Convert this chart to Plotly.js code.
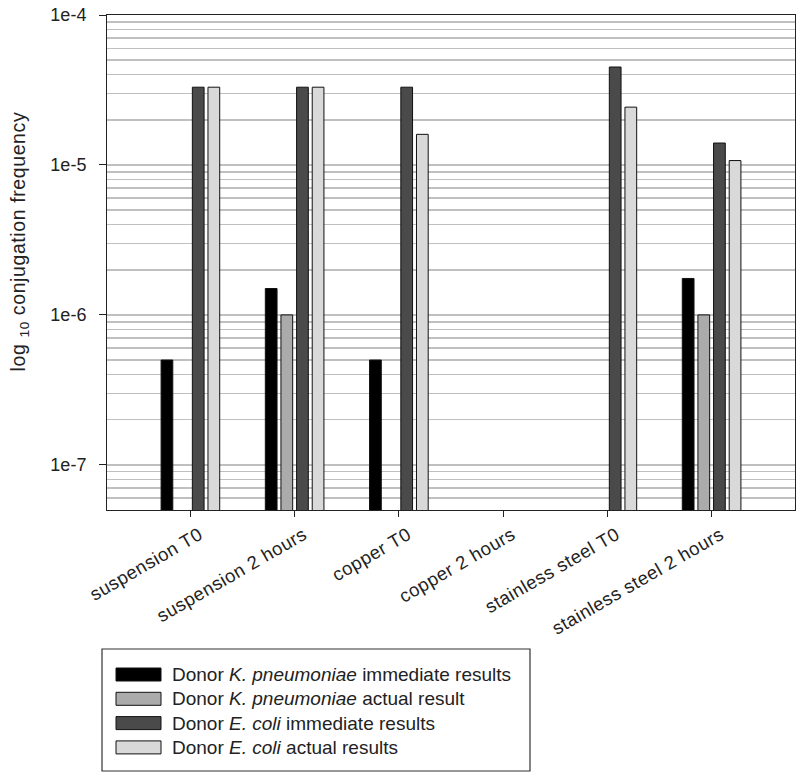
<!DOCTYPE html>
<html>
<head>
<meta charset="utf-8">
<script src="https://cdn.plot.ly/plotly-3.0.1.min.js"></script>
<style>
html,body{margin:0;padding:0;background:#fff;}
#chart{width:800px;height:774px;}
#chart .annotation[data-index="0"] .annotation-text{letter-spacing:0.6px;}
#chart .xtick text{letter-spacing:0.5px;}
</style>
</head>
<body>
<div id="chart"></div>
<script>
const categories = ["suspension T0", "suspension 2 hours", "copper T0", "copper 2 hours", "stainless steel T0", "stainless steel 2 hours"];
const kpImmediate = [5e-7, 1.5e-6, 5e-7, null, null, 1.75e-6];
const kpActual = [null, 1e-6, null, null, null, 1e-6];
const ecImmediate = [3.3e-5, 3.3e-5, 3.3e-5, null, 4.5e-5, 1.4e-5];
const ecActual = [3.3e-5, 3.3e-5, 1.6e-5, null, 2.43e-5, 1.07e-5];
const seriesNames = [
  "Donor <i>K. pneumoniae</i> immediate results",
  "Donor <i>K. pneumoniae</i> actual result",
  "Donor <i>E. coli</i> immediate results",
  "Donor <i>E. coli</i> actual results"
];
const seriesColors = ["#000000", "#ababab", "#4a4a4a", "#d9d9d9"];
const yTickVals = [1e-7, 1e-6, 1e-5, 1e-4];
const yTickText = ["1e-7", "1e-6", "1e-5", "1e-4"];
const yTitle = "log <sub>10</sub> conjugation frequency";

const allValues = [kpImmediate, kpActual, ecImmediate, ecActual];
const traces = allValues.map((vals, i) => ({
  type: "bar",
  x: categories,
  y: vals,
  name: seriesNames[i],
  showlegend: false,
  marker: {color: seriesColors[i], line: {color: "#111", width: 1}}
}));

// figure geometry (pixels) used to place the hand-drawn legend box and title
const W = 800, H = 774, M = {l: 107, r: 5, t: 15, b: 264};
const PW = W - M.l - M.r, PH = H - M.t - M.b;
const px = v => (v - M.l) / PW;
const py = v => (H - M.b - v) / PH;

const font = "Liberation Sans, Arial, sans-serif";
const shapes = [{
  type: "rect", xref: "paper", yref: "paper",
  x0: px(102), x1: px(530), y0: py(649), y1: py(771),
  line: {color: "#333", width: 1.2}, fillcolor: "rgba(0,0,0,0)"
}];
const annotations = [{
  xref: "paper", yref: "paper", x: px(20), y: py(242),
  xanchor: "center", yanchor: "middle", showarrow: false, textangle: -90,
  text: yTitle, font: {family: font, size: 19.5, color: "#222"}
}];
seriesNames.forEach((name, i) => {
  const cy = 674.5 + i * 24.3;
  shapes.push({
    type: "rect", xref: "paper", yref: "paper",
    x0: px(116), x1: px(161), y0: py(cy - 6.5), y1: py(cy + 6.5),
    line: {color: "#111", width: 1}, fillcolor: seriesColors[i]
  });
  annotations.push({
    xref: "paper", yref: "paper", x: px(170), y: py(cy),
    xanchor: "left", yanchor: "middle", showarrow: false,
    text: name, font: {family: font, size: 19, color: "#222"}
  });
});

const layout = {
  width: W, height: H,
  margin: M,
  paper_bgcolor: "#fff", plot_bgcolor: "#fff",
  font: {family: font, color: "#222", size: 18},
  barmode: "group", bargap: 0.4, bargroupgap: 0.25,
  showlegend: false,
  shapes: shapes,
  annotations: annotations,
  xaxis: {
    type: "category", categoryorder: "array", categoryarray: categories,
    range: [-0.8, 5.8],
    showline: true, linecolor: "#222", linewidth: 1, mirror: true,
    ticks: "outside", ticklen: 6, tickcolor: "#222",
    tickangle: -30, ticklabelshift: 9,
    tickfont: {size: 18.5, family: font, color: "#222"},
    showgrid: false, zeroline: false
  },
  yaxis: {
    type: "log", range: [Math.log10(5e-8), -4],
    tickmode: "array", tickvals: yTickVals, ticktext: yTickText,
    showline: true, linecolor: "#222", linewidth: 1, mirror: true,
    ticks: "outside", ticklen: 7, tickcolor: "#222",
    ticklabelstandoff: 9,
    tickfont: {size: 18, family: font, color: "#222"},
    showgrid: false, zeroline: false,
    minor: {tickmode: "linear", dtick: "D1", showgrid: true, gridcolor: "#bfbfbf", gridwidth: 1.5, ticks: ""}
  }
};
Plotly.newPlot("chart", traces, layout, {displayModeBar: false, staticPlot: true});
</script>
</body>
</html>
